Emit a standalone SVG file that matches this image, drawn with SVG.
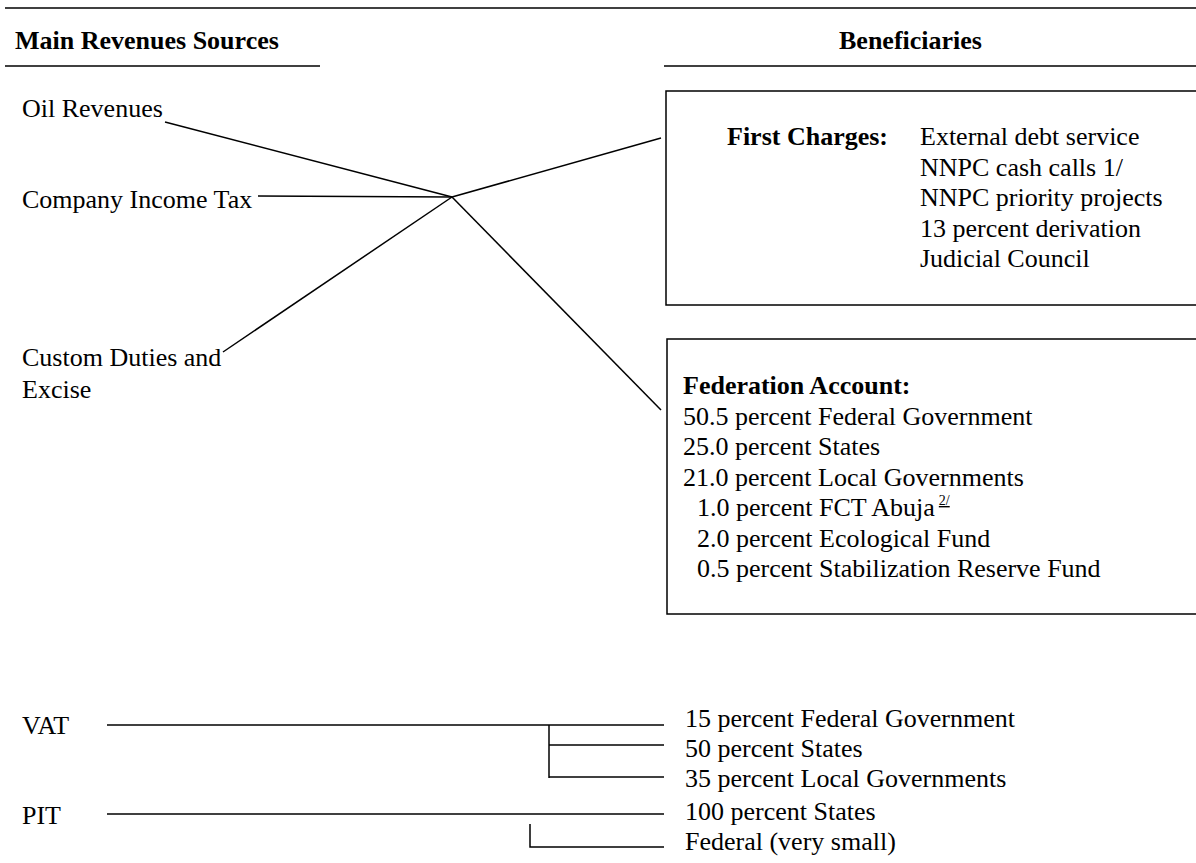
<svg xmlns="http://www.w3.org/2000/svg" width="1196" height="863" viewBox="0 0 1196 863">
<style>
text{font-family:"Liberation Serif","Times New Roman",serif;font-size:26px;fill:#000}
.b{font-weight:bold}
.ln{stroke:#000;stroke-width:1.5;fill:none}
.bx{stroke:#000;stroke-width:1.5;fill:#fff}
</style>
<rect width="1196" height="863" fill="#fff"/>
<g id="header">
<line class="ln" x1="5" y1="8" x2="1196" y2="8"/>
<text class="b" x="15" y="49">Main Revenues Sources</text>
<line class="ln" x1="5" y1="66" x2="320" y2="66"/>
<text class="b" x="839" y="49">Beneficiaries</text>
<line class="ln" x1="664" y1="66" x2="1196" y2="66"/>
</g>
<g id="src-oil"><text x="22" y="117">Oil Revenues</text></g>
<g id="src-cit"><text x="22" y="208">Company Income Tax</text></g>
<g id="src-customs"><text x="22" y="366">Custom Duties and</text><text x="22" y="398">Excise</text></g>
<g id="first-charges">
<rect class="bx" x="666" y="91" width="540" height="214"/>
<text class="b" x="727" y="145">First Charges:</text>
<text x="920" y="145">External debt service</text>
<text x="920" y="175.5">NNPC cash calls 1/</text>
<text x="920" y="206">NNPC priority projects</text>
<text x="920" y="236.5">13 percent derivation</text>
<text x="920" y="267">Judicial Council</text>
</g>
<g id="federation-account">
<rect class="bx" x="667" y="339" width="540" height="275"/>
<text class="b" x="683" y="394">Federation Account:</text>
<text x="683" y="424.5">50.5 percent Federal Government</text>
<text x="683" y="455">25.0 percent States</text>
<text x="683" y="485.5">21.0 percent Local Governments</text>
<text x="697" y="516">1.0 percent FCT Abuja<tspan font-size="14" dx="4" dy="-11" text-decoration="underline">2/</tspan></text>
<text x="697" y="546.5">2.0 percent Ecological Fund</text>
<text x="697" y="577">0.5 percent Stabilization Reserve Fund</text>
</g>
<g id="vat">
<text x="22" y="734">VAT</text>
<text x="685" y="727">15 percent Federal Government</text>
<text x="685" y="757">50 percent States</text>
<text x="685" y="787">35 percent Local Governments</text>
</g>
<g id="pit">
<text x="22" y="824">PIT</text>
<text x="685" y="820">100 percent States</text>
<text x="685" y="850">Federal (very small)</text>
</g>
<g id="connectors">
<line class="ln" x1="165" y1="122" x2="452" y2="197"/>
<line class="ln" x1="258" y1="196" x2="452" y2="197"/>
<line class="ln" x1="223" y1="352" x2="452" y2="197"/>
<line class="ln" x1="452" y1="197" x2="661" y2="138"/>
<line class="ln" x1="452" y1="197" x2="661" y2="410"/>
<line class="ln" x1="107" y1="725" x2="664" y2="725"/>
<line class="ln" x1="549" y1="725" x2="549" y2="778"/>
<line class="ln" x1="549" y1="745" x2="664" y2="745"/>
<line class="ln" x1="549" y1="777" x2="664" y2="777"/>
<line class="ln" x1="107" y1="814" x2="664" y2="814"/>
<polyline class="ln" points="530,824 530,847 664,847"/>
</g>
</svg>
